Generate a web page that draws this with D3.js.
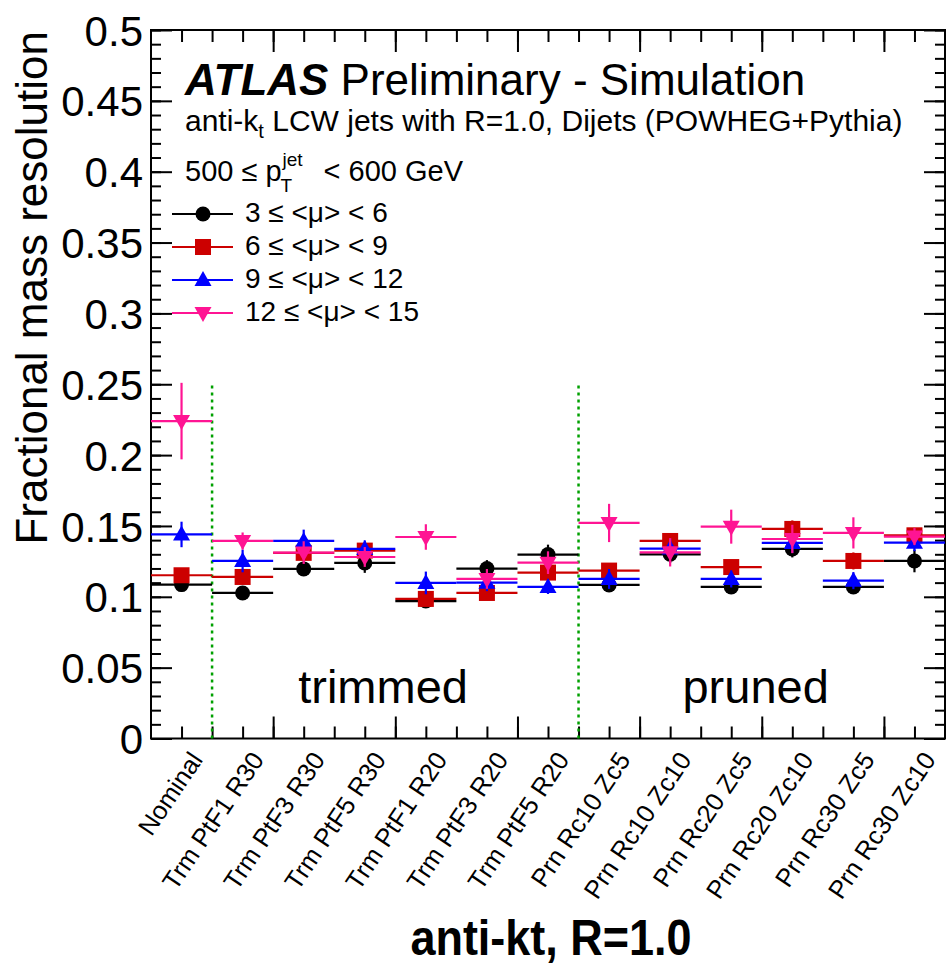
<!DOCTYPE html>
<html><head><meta charset="utf-8">
<script src="https://cdn.jsdelivr.net/npm/d3@7"></script>
<style>
html,body{margin:0;padding:0;background:#fff;}
text{font-family:"Liberation Sans",Arial,Helvetica,sans-serif;}
</style></head>
<body>
<svg id="c" width="946" height="968"></svg>
<script>
const categories = ["Nominal","Trm PtF1 R30","Trm PtF3 R30","Trm PtF5 R30","Trm PtF1 R20","Trm PtF3 R20","Trm PtF5 R20","Prn Rc10 Zc5","Prn Rc10 Zc10","Prn Rc20 Zc5","Prn Rc20 Zc10","Prn Rc30 Zc5","Prn Rc30 Zc10"];

const seriesNames = ["3 \u2264 <\u03bc> < 6","6 \u2264 <\u03bc> < 9","9 \u2264 <\u03bc> < 12","12 \u2264 <\u03bc> < 15"];
const seriesColors = ["#000000","#cc0000","#0000ff","#ff1493"];
const seriesMarkers = ["circle","square","triangle","triangleDown"];

const mu3to6   = [0.1086,0.1027,0.1197,0.1239,0.0970,0.1199,0.1298,0.1084,0.1300,0.1070,0.1338,0.1070,0.1253];
const mu3to6Err= [0.005,0.004,0.005,0.007,0.004,0.006,0.007,0.005,0.006,0.004,0.006,0.004,0.008];
const mu6to9   = [0.1152,0.1140,0.1310,0.1326,0.0985,0.1027,0.1171,0.1185,0.1394,0.1210,0.1479,0.1253,0.1434];
const mu6to9Err= [0.005,0.005,0.006,0.005,0.004,0.004,0.006,0.005,0.005,0.005,0.006,0.006,0.005];
const mu9to12   = [0.1440,0.1253,0.1394,0.1338,0.1098,0.1100,0.1070,0.1126,0.1340,0.1126,0.1380,0.1114,0.1382];
const mu9to12Err= [0.009,0.008,0.008,0.006,0.008,0.006,0.005,0.007,0.007,0.006,0.007,0.006,0.006];
const mu12to15   = [0.2240,0.1394,0.1312,0.1281,0.1422,0.1126,0.1241,0.1521,0.1314,0.1495,0.1408,0.1451,0.1425];
const mu12to15Err= [0.027,0.006,0.008,0.007,0.009,0.007,0.008,0.0135,0.010,0.012,0.010,0.011,0.006];

const seriesValues = [mu3to6, mu6to9, mu9to12, mu12to15];
const seriesErrors = [mu3to6Err, mu6to9Err, mu9to12Err, mu12to15Err];

const yMajorTicks = [0,0.05,0.1,0.15,0.2,0.25,0.3,0.35,0.4,0.45,0.5];
const yTickLabels = ["0","0.05","0.1","0.15","0.2","0.25","0.3","0.35","0.4","0.45","0.5"];

const svg = d3.select("#c");
const L = 151, R = 945, T = 30, B = 738.5;
const y = d3.scaleLinear().domain([0,0.5]).range([B,T]);
const x = d3.scaleBand().domain(categories).range([L,R]);
const xl = d3.scaleLinear().domain([0,categories.length]).range([L,R]);

const yMinor = d3.range(0,0.5001,0.01).map(v=>+v.toFixed(2));
function styleAxis(g){ g.select(".domain").remove(); g.selectAll("line").attr("stroke","#000").attr("stroke-width",2); }
svg.append("g").attr("transform",`translate(${L},0)`)
  .call(d3.axisLeft(y).tickValues(yMinor).tickSize(-10).tickFormat(""))
  .call(styleAxis);
svg.append("g").attr("transform",`translate(${L},0)`)
  .call(d3.axisLeft(y).tickValues(yMajorTicks).tickSize(-21).tickPadding(8)
        .tickFormat((d,i)=>yTickLabels[i]))
  .call(styleAxis)
  .call(g=>g.selectAll("text").attr("font-size",42).attr("fill","#000").attr("dy","0.36em")
        .style("font-family","'Liberation Sans',Arial,sans-serif"));
svg.append("g").attr("transform",`translate(${R},0)`)
  .call(d3.axisRight(y).tickValues(yMinor).tickSize(-10).tickFormat(""))
  .call(styleAxis);
svg.append("g").attr("transform",`translate(${R},0)`)
  .call(d3.axisRight(y).tickValues(yMajorTicks).tickSize(-21).tickFormat(""))
  .call(styleAxis);

const xMinor = d3.range(0.5,categories.length,0.5);
const xMajor = d3.range(2,categories.length,2);
svg.append("g").attr("transform",`translate(0,${T})`)
  .call(d3.axisTop(xl).tickValues(xMinor).tickSize(-12).tickFormat("")).call(styleAxis);
svg.append("g").attr("transform",`translate(0,${T})`)
  .call(d3.axisTop(xl).tickValues(xMajor).tickSize(-22).tickFormat("")).call(styleAxis);
svg.append("g").attr("transform",`translate(0,${B})`)
  .call(d3.axisBottom(xl).tickValues(xMinor).tickSize(-12).tickFormat("")).call(styleAxis);
svg.append("g").attr("transform",`translate(0,${B})`)
  .call(d3.axisBottom(xl).tickValues(xMajor).tickSize(-22).tickFormat("")).call(styleAxis);

svg.append("g").attr("transform",`translate(0,${B})`)
  .call(d3.axisBottom(x).tickSize(0).tickPadding(0))
  .call(g=>g.select(".domain").remove())
  .call(g=>g.selectAll("text")
     .attr("font-size",25.5).attr("fill","#000")
     .attr("text-anchor","end")
     .attr("y",0).attr("dy","0.72em")
     .attr("transform","translate(7,11) rotate(-56)")
     .style("font-family","'Liberation Sans',Arial,sans-serif"));

svg.append("rect").attr("x",L).attr("y",T).attr("width",R-L).attr("height",B-T)
  .attr("fill","none").attr("stroke","#000").attr("stroke-width",2);

[1,7].forEach(v=>{
  svg.append("line").attr("x1",xl(v)).attr("x2",xl(v)).attr("y1",y(0)).attr("y2",y(0.25))
    .attr("stroke","#00a000").attr("stroke-width",2.5).attr("stroke-dasharray","3,4");
});

function marker(g, type, cx, cy, color){
  if(type==="circle") g.append("circle").attr("cx",cx).attr("cy",cy).attr("r",7.5).attr("fill",color);
  else if(type==="square") g.append("rect").attr("x",cx-8).attr("y",cy-8).attr("width",16).attr("height",16).attr("fill",color);
  else if(type==="triangle") g.append("path").attr("d",`M${cx},${cy-9}L${cx+8.5},${cy+6}L${cx-8.5},${cy+6}Z`).attr("fill",color);
  else g.append("path").attr("d",`M${cx},${cy+9}L${cx+8.5},${cy-6}L${cx-8.5},${cy-6}Z`).attr("fill",color);
}

seriesValues.forEach((vals,s)=>{
  const g = svg.append("g");
  const col = seriesColors[s];
  vals.forEach((v,i)=>{
    const c = categories[i];
    const cx = x(c)+x.bandwidth()/2;
    g.append("line").attr("x1",x(c)).attr("x2",x(c)+x.bandwidth()).attr("y1",y(v)).attr("y2",y(v))
      .attr("stroke",col).attr("stroke-width",2.2);
    g.append("line").attr("x1",cx).attr("x2",cx).attr("y1",y(v-seriesErrors[s][i])).attr("y2",y(v+seriesErrors[s][i]))
      .attr("stroke",col).attr("stroke-width",2.2);
  });
  vals.forEach((v,i)=>{
    const cx = x(categories[i])+x.bandwidth()/2;
    marker(g, seriesMarkers[s], cx, y(v), col);
  });
});

const ATL = svg.append("text").attr("x",185).attr("y",95).attr("font-size",44).attr("fill","#000");
ATL.append("tspan").attr("font-weight","bold").attr("font-style","italic").text("ATLAS");
ATL.append("tspan").text(" Preliminary - Simulation");

const sub = svg.append("text").attr("x",185).attr("y",131).attr("font-size",30).attr("fill","#000");
sub.append("tspan").text("anti-k");
sub.append("tspan").attr("font-size",20).attr("dy",7).text("t");
sub.append("tspan").attr("dy",-7).text(" LCW jets with R=1.0, Dijets (POWHEG+Pythia)");

const pt1 = svg.append("text").attr("x",185).attr("y",181).attr("font-size",29).attr("fill","#000").text("500 \u2264 p");
const w1 = pt1.node().getComputedTextLength();
svg.append("text").attr("x",185+w1+1).attr("y",166).attr("font-size",19).attr("fill","#000").text("jet");
svg.append("text").attr("x",185+w1-1).attr("y",192).attr("font-size",19).attr("fill","#000").text("T");
svg.append("text").attr("x",185+w1+42).attr("y",181).attr("font-size",29).attr("fill","#000").text("< 600 GeV");

seriesNames.forEach((nm,s)=>{
  const by = 222 + s*33;
  const cy = by - 8;
  const g = svg.append("g");
  g.append("line").attr("x1",172).attr("x2",233).attr("y1",cy).attr("y2",cy).attr("stroke",seriesColors[s]).attr("stroke-width",2.2);
  marker(g, seriesMarkers[s], 203, cy, seriesColors[s]);
  g.append("text").attr("x",245).attr("y",by).attr("font-size",28).attr("fill","#000").text(nm);
});

svg.append("text").attr("x",xl(3.8)).attr("y",703).attr("text-anchor","middle").attr("font-size",47).attr("fill","#000").text("trimmed");
svg.append("text").attr("x",xl(9.9)).attr("y",703).attr("text-anchor","middle").attr("font-size",47).attr("fill","#000").text("pruned");

svg.append("text").attr("transform","translate(47,31) rotate(-90)").attr("text-anchor","end")
  .attr("font-size",44).attr("fill","#000").text("Fractional mass resolution");
svg.append("text").attr("transform","translate(551,955) scale(0.9,1)").attr("text-anchor","middle")
  .attr("font-size",50).attr("font-weight","bold").attr("fill","#000").text("anti-kt, R=1.0");
</script>
</body></html>
